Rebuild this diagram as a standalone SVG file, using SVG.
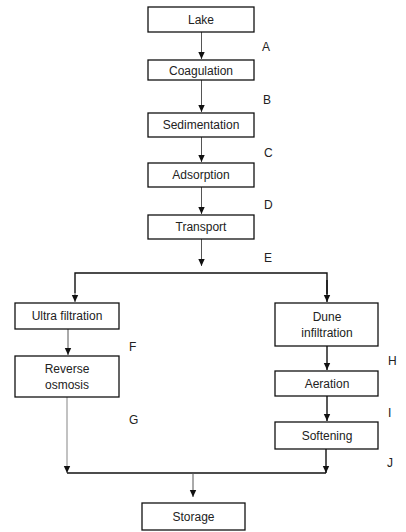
<svg xmlns="http://www.w3.org/2000/svg" width="406" height="532" viewBox="0 0 406 532">
<defs>
<marker id="ah" viewBox="0 0 8 8" refX="7" refY="4" markerWidth="8" markerHeight="8" markerUnits="userSpaceOnUse" orient="auto">
<path d="M0,0.8 L7,4 L0,7.2 Z" fill="#111"/>
</marker>
</defs>
<style>
.box{fill:#fff;stroke:#111;stroke-width:1.3}
.t{font-family:"Liberation Sans",Arial,sans-serif;font-size:12px;fill:#222;text-anchor:middle}
.lb{font-family:"Liberation Sans",Arial,sans-serif;font-size:12px;fill:#222}
.c{fill:none;stroke:#555;stroke-width:1}
.k{fill:none;stroke:#111;stroke-width:1.4}
.g{fill:none;stroke:#999;stroke-width:1.2}
</style>
<rect width="406" height="532" fill="#fff"/>
<g id="connectors">
<line class="c" x1="201.5" y1="32" x2="201.5" y2="59" marker-end="url(#ah)"/>
<line class="c" x1="201.5" y1="80" x2="201.5" y2="112" marker-end="url(#ah)"/>
<line class="c" x1="201.5" y1="137" x2="201.5" y2="162" marker-end="url(#ah)"/>
<line class="c" x1="201.5" y1="187" x2="201.5" y2="214" marker-end="url(#ah)"/>
<line class="c" x1="201.5" y1="239" x2="201.5" y2="266" marker-end="url(#ah)"/>
<polyline class="k" points="75,293 75,273 327,273 327,294"/>
<line class="c" x1="75" y1="280" x2="75" y2="302" marker-end="url(#ah)"/>
<line class="k" x1="327" y1="280" x2="327" y2="302" marker-end="url(#ah)"/>
<line class="c" x1="68" y1="329" x2="68" y2="355" marker-end="url(#ah)"/>
<line class="k" x1="327" y1="346" x2="327" y2="370" marker-end="url(#ah)"/>
<line class="k" x1="327" y1="396" x2="327" y2="421" marker-end="url(#ah)"/>
<line class="g" x1="67" y1="397" x2="67" y2="473" marker-end="url(#ah)"/>
<line class="k" x1="326" y1="449" x2="326" y2="473" marker-end="url(#ah)"/>
<line class="k" x1="67" y1="473" x2="326" y2="473"/>
<line class="c" x1="193" y1="473" x2="193" y2="497" marker-end="url(#ah)"/>
</g>
<g id="labels">
<text class="lb" x="262" y="51">A</text>
<text class="lb" x="263" y="104">B</text>
<text class="lb" x="264" y="157">C</text>
<text class="lb" x="264" y="209">D</text>
<text class="lb" x="264" y="262">E</text>
<text class="lb" x="129" y="351">F</text>
<text class="lb" x="129" y="424">G</text>
<text class="lb" x="388" y="365">H</text>
<text class="lb" x="388" y="417">I</text>
<text class="lb" x="387" y="467">J</text>
</g>
<g id="lake"><rect class="box" x="148" y="7" width="106" height="25"/><text class="t" x="201" y="24">Lake</text></g>
<g id="coagulation"><rect class="box" x="148" y="60" width="106" height="20"/><text class="t" x="201" y="74.5">Coagulation</text></g>
<g id="sedimentation"><rect class="box" x="148" y="113" width="106" height="24"/><text class="t" x="201" y="129">Sedimentation</text></g>
<g id="adsorption"><rect class="box" x="148" y="163" width="106" height="24"/><text class="t" x="201" y="179">Adsorption</text></g>
<g id="transport"><rect class="box" x="148" y="215" width="106" height="24"/><text class="t" x="201" y="231">Transport</text></g>
<g id="ultrafiltration"><rect class="box" x="15" y="303" width="104" height="26"/><text class="t" x="67" y="320">Ultra filtration</text></g>
<g id="reverseosmosis"><rect class="box" x="15" y="356" width="104" height="41"/><text class="t" x="67" y="373">Reverse</text><text class="t" x="67" y="389">osmosis</text></g>
<g id="duneinfiltration"><rect class="box" x="275" y="303" width="103" height="43"/><text class="t" x="327" y="321">Dune</text><text class="t" x="327" y="337">infiltration</text></g>
<g id="aeration"><rect class="box" x="275" y="371" width="103" height="25"/><text class="t" x="327" y="387.5">Aeration</text></g>
<g id="softening"><rect class="box" x="275" y="422" width="103" height="27"/><text class="t" x="327" y="440">Softening</text></g>
<g id="storage"><rect class="box" x="142" y="503" width="103" height="27"/><text class="t" x="193.5" y="521">Storage</text></g>
</svg>
